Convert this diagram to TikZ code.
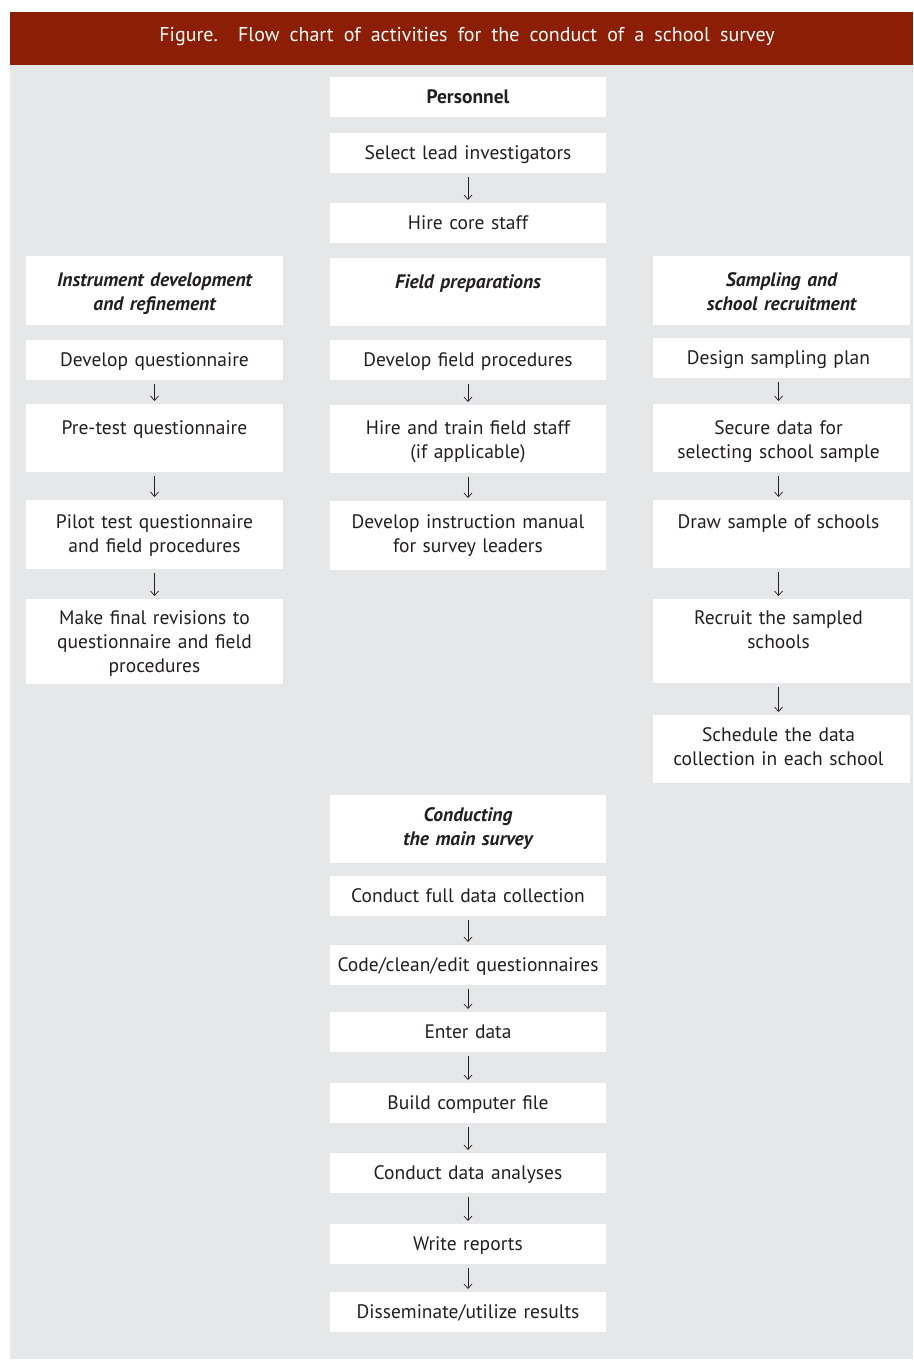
\documentclass[tikz,border=0pt]{standalone}
\usepackage{fontspec}
\setmainfont{PT Sans}[WordSpace=1.9]
\usetikzlibrary{arrows.meta,positioning}
\definecolor{bannerred}{RGB}{139,30,4}
\definecolor{panelgray}{RGB}{230,231,232}
\definecolor{inkgray}{RGB}{35,31,32}

% one white step box; text hangs from the top edge
% #1 baseline offset, #2 name, #3 left x, #4 top y, #5 width, #6 height, #7 text
\newcommand{\flowbox}[7][26]{%
  \node[box, minimum width=#5, minimum height=#6, anchor=north west] (#2) at (#3,#4) {};
  \node[flowtext, text width=#5-12, anchor=base] (#2-t) at ([yshift=-#1]#2.north) {#7};
}

\begin{document}
\begin{tikzpicture}[x=1pt, y=-1pt,
    box/.style={fill=white, inner sep=0pt, outer sep=0pt},
    plaintext/.style={align=center, inner sep=0pt, text=inkgray,
      font=\fontsize{19.5}{24}\selectfont},
    headtext/.style={plaintext, font=\fontsize{19.5}{24}\selectfont\bfseries\itshape},
    flowtext/.style={plaintext},
    flowarrow/.style={-{Straight Barb[length=4.5pt,width=8pt]}, draw=inkgray,
      line width=0.7pt, shorten <=4pt, shorten >=3pt}]

  \useasboundingbox (0,0) rectangle (913,1360);

  % banner and grey panel
  \fill[panelgray] (10,65) rectangle (913,1359);
  \fill[bannerred] (10,12) rectangle (913,65);
  \node[text=white, font=\fontsize{20}{24}\selectfont] (title) at (467,37)
    {Figure.\ \ Flow chart of activities for the conduct of a school survey};

  % column positions
  \def\xl{26}  \def\wl{257}
  \def\xm{330} \def\wm{276}
  \def\xr{653} \def\wr{257}

  % personnel
  \flowbox{pers}{\xm}{77}{\wm}{40}{\bfseries Personnel}
  \flowbox{lead}{\xm}{133}{\wm}{40}{Select lead investigators}
  \flowbox{core}{\xm}{203}{\wm}{40}{Hire core staff}

  % section heads
  \tikzset{flowtext/.style={headtext}}
  \flowbox[30]{instr}{\xl}{256}{\wl}{69}{Instrument development\\and refinement}
  \flowbox[30]{field}{\xm}{258}{\wm}{68}{Field preparations}
  \flowbox[30]{sampl}{\xr}{256}{\wr}{69}{Sampling and\\school recruitment}
  \tikzset{flowtext/.style={plaintext}}

  % instrument column
  \flowbox{devq}{\xl}{340}{\wl}{40}{Develop questionnaire}
  \flowbox[30]{pretest}{\xl}{404}{\wl}{68}{Pre-test questionnaire}
  \flowbox[28]{pilot}{\xl}{500}{\wl}{69}{Pilot test questionnaire\\and field procedures}
  \flowbox[25]{final}{\xl}{599}{\wl}{85}{Make final revisions to\\questionnaire and field\\procedures}

  % field column
  \flowbox{devf}{\xm}{340}{\wm}{40}{Develop field procedures}
  \flowbox[29]{train}{\xm}{405}{\wm}{68}{Hire and train field staff\\(if applicable)}
  \flowbox[27]{manual}{\xm}{501}{\wm}{69}{Develop instruction manual\\for survey leaders}

  % sampling column, text sits a little left of centre
  \tikzset{flowtext/.style={plaintext, xshift=-3pt}}
  \flowbox{plan}{\xr}{338}{\wr}{40}{Design sampling plan}
  \flowbox[30]{secure}{\xr}{404}{\wr}{68}{Secure data for\\selecting school sample}
  \flowbox[28]{draw}{\xr}{500}{\wr}{68}{Draw sample of schools}
  \flowbox[25]{recruit}{\xr}{599}{\wr}{84}{Recruit the sampled\\schools}
  \flowbox{sched}{\xr}{715}{\wr}{68}{Schedule the data\\collection in each school}

  % main survey
  \tikzset{flowtext/.style={headtext}}
  \flowbox{main}{\xm}{795}{\wm}{68}{Conducting\\the main survey}
  \tikzset{flowtext/.style={plaintext}}
  \flowbox{collect}{\xm}{876}{\wm}{40}{Conduct full data collection}
  \flowbox{clean}{\xm}{945}{\wm}{40}{Code/clean/edit questionnaires}
  \flowbox{enter}{\xm}{1012}{\wm}{40}{Enter data}
  \flowbox{build}{\xm}{1083}{\wm}{40}{Build computer file}
  \flowbox{analyse}{\xm}{1153}{\wm}{40}{Conduct data analyses}
  \flowbox{report}{\xm}{1224}{\wm}{40}{Write reports}
  \flowbox{spread}{\xm}{1292}{\wm}{40}{Disseminate/utilize results}

  % arrows
  \draw[flowarrow] (lead) -- (core);
  \foreach \a/\b in {devq/pretest, pretest/pilot, pilot/final,
      devf/train, train/manual,
      collect/clean, clean/enter, enter/build, build/analyse,
      analyse/report, report/spread}
    \draw[flowarrow] (\a) -- (\b);
  \foreach \a/\b in {plan/secure, secure/draw, draw/recruit, recruit/sched}
    \draw[flowarrow] ([xshift=-3pt]\a.south) -- ([xshift=-3pt]\b.north);
\end{tikzpicture}
\end{document}
